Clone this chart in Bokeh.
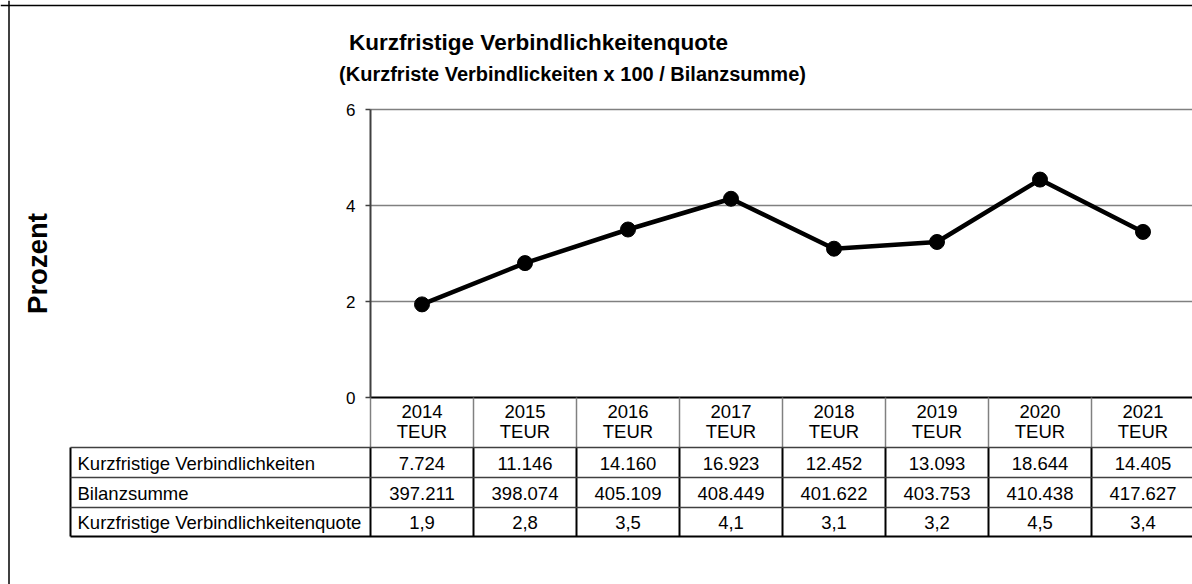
import math
from bokeh.plotting import figure
from bokeh.models import Range1d, FixedTicker, Span
from bokeh.core.properties import value
from bokeh.embed import file_html
from bokeh.resources import INLINE

# ---------------- data ----------------
years = ["2014", "2015", "2016", "2017", "2018", "2019", "2020", "2021"]
unit = "TEUR"
kurzfristige_verbindlichkeiten = [7724, 11146, 14160, 16923, 12452, 13093, 18644, 14405]
bilanzsumme = [397211, 398074, 405109, 408449, 401622, 403753, 410438, 417627]
quote_table = [1.9, 2.8, 3.5, 4.1, 3.1, 3.2, 4.5, 3.4]
quote_plot = [1.94, 2.80, 3.50, 4.14, 3.10, 3.24, 4.54, 3.45]
row_labels = ["Kurzfristige Verbindlichkeiten", "Bilanzsumme", "Kurzfristige Verbindlichkeitenquote"]
y_ticks = [0, 2, 4, 6]
title_text = "Kurzfristige Verbindlichkeitenquote"
subtitle_text = "(Kurzfriste Verbindlickeiten x 100 / Bilanzsumme)"
y_label = "Prozent"

# ---------------- layout (page pixels) ----------------
W, H = 1192, 584
OX, OY = 0, 0
PLOT_L = 370.0
COL_W = 103.0
Y0 = 397.0
PX_PER_UNIT = 48.0
LABEL_L = 70.0
ROW_TOPS = [447.0, 477.0, 507.0, 536.0]
FONT = "Liberation Sans"
TABLE_FS = "18.5px"


def dx(px):
    return (px - (PLOT_L + COL_W / 2)) / COL_W


def dy(py):
    return (Y0 - py) / PX_PER_UNIT


def de(n):
    return f"{n:,}".replace(",", ".")


def dec(v):
    return f"{v:.1f}".replace(".", ",")


p = figure(width=W, height=H, output_backend="svg", toolbar_location=None,
           x_range=Range1d(dx(OX), dx(OX + W)), y_range=Range1d(dy(OY + H), dy(OY)),
           x_axis_location=None, y_axis_location="left",
           min_border=0, min_border_left=0, min_border_right=0,
           min_border_top=0, min_border_bottom=0)
p.outline_line_color = None
p.grid.visible = False
p.background_fill_color = "white"
p.border_fill_color = "white"

n = len(years)
xs = list(range(n))
left_edge = -0.5
right_edge = n - 0.5

# y axis
ax = p.yaxis[0]
ax.fixed_location = left_edge
ax.bounds = (y_ticks[0], y_ticks[-1])
ax.ticker = FixedTicker(ticks=y_ticks)
ax.axis_line_color = "#404040"
ax.axis_line_width = 2
ax.major_tick_line_color = "#404040"
ax.major_tick_line_width = 1.5
ax.major_tick_out = 5
ax.major_tick_in = 0
ax.minor_tick_line_color = None
ax.major_label_text_font = FONT
ax.major_label_text_font_size = "17px"
ax.major_label_text_color = "black"
ax.major_label_standoff = 10

# gridlines
gy = [t for t in y_ticks if t > 0]
p.segment(x0=[left_edge] * len(gy), x1=[right_edge] * len(gy), y0=gy, y1=gy,
          line_color="#808080", line_width=1.5)
# zero line
p.segment(x0=[left_edge], x1=[right_edge], y0=[0], y1=[0], line_color="black", line_width=2)

# data line
p.line(xs, quote_plot, line_color="black", line_width=4.5, line_join="round")
p.scatter(xs, quote_plot, size=15, fill_color="black", line_color="black")

# table: header verticals (gray)
bx = [k - 0.5 for k in range(n + 1)]
p.segment(x0=bx, x1=bx, y0=[0] * len(bx), y1=[dy(ROW_TOPS[0])] * len(bx),
          line_color="#808080", line_width=1.5)
# data verticals (black)
vx = [dx(LABEL_L)] + bx
p.segment(x0=vx, x1=vx, y0=[dy(ROW_TOPS[0])] * len(vx), y1=[dy(ROW_TOPS[-1])] * len(vx),
          line_color="black", line_width=2)
# horizontals
p.segment(x0=[dx(LABEL_L)] * 3, x1=[right_edge] * 3, y0=[dy(t) for t in ROW_TOPS[:3]],
          y1=[dy(t) for t in ROW_TOPS[:3]], line_color="#404040", line_width=1.5)
p.segment(x0=[dx(LABEL_L)], x1=[right_edge], y0=[dy(ROW_TOPS[-1])], y1=[dy(ROW_TOPS[-1])],
          line_color="black", line_width=2)

# header texts
p.text(x=xs, y=[dy(411)] * n, text=years, text_align="center", text_baseline="middle",
       text_font=value(FONT), text_font_size=TABLE_FS, text_color="black")
p.text(x=xs, y=[dy(431)] * n, text=[unit] * n, text_align="center", text_baseline="middle",
       text_font=value(FONT), text_font_size=TABLE_FS, text_color="black")

rows = [[de(v) for v in kurzfristige_verbindlichkeiten],
        [de(v) for v in bilanzsumme],
        [dec(v) for v in quote_table]]
for r, vals in enumerate(rows):
    cy = dy((ROW_TOPS[r] + ROW_TOPS[r + 1]) / 2 + 0.5)
    p.text(x=xs, y=[cy] * n, text=vals, text_align="center", text_baseline="middle",
           text_font=value(FONT), text_font_size=TABLE_FS, text_color="black")
    p.text(x=[dx(77)], y=[cy], text=[row_labels[r]], text_align="left", text_baseline="middle",
           text_font=value(FONT), text_font_size=TABLE_FS, text_color="black")

# titles
p.text(x=[dx(538)], y=[dy(42)], text=[title_text], text_align="center", text_baseline="middle",
       text_font=value(FONT), text_font_size="22.5px", text_font_style="bold", text_color="black")
p.text(x=[dx(572)], y=[dy(73)], text=[subtitle_text], text_align="center", text_baseline="middle",
       text_font=value(FONT), text_font_size="20px", text_font_style="bold", text_color="black")

# y label
p.text(x=[dx(37)], y=[dy(263)], text=[y_label], angle=math.pi / 2, text_align="center",
       text_baseline="middle", text_font=value(FONT), text_font_size="27.5px",
       text_font_style="bold", text_color="black")

# outer border (left and top; right and bottom fall outside the window)
p.add_layout(Span(location=dx(8.5), dimension="height", line_color="black", line_width=1.5))
p.add_layout(Span(location=dy(5), dimension="width", line_color="black", line_width=1.5))

open("out.html", "w").write(file_html(p, INLINE))
